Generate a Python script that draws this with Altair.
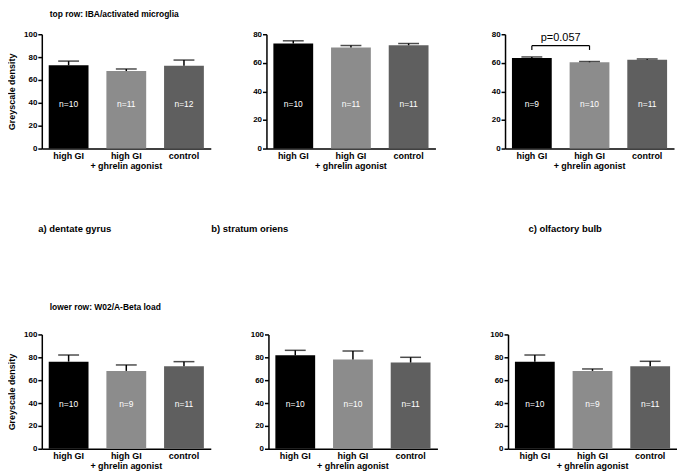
import altair as alt
import pandas as pd

groups = ["high GI", "high GI|+ ghrelin agonist", "control"]
colors = ["#000000", "#8c8c8c", "#5f5f5f"]

# top row: IBA / activated microglia
top_dg_mean = [72.8, 67.8, 72.5]
top_dg_err = [3.7, 1.8, 4.9]
top_dg_n = [10, 11, 12]
top_so_mean = [73.5, 70.7, 72.3]
top_so_err = [1.9, 1.4, 1.2]
top_so_n = [10, 11, 11]
top_ob_mean = [63.4, 60.4, 62.2]
top_ob_err = [0.7, 0.5, 0.5]
top_ob_n = [9, 10, 11]

# lower row: W02 / A-Beta load
low_dg_mean = [76.2, 68.1, 72.2]
low_dg_err = [5.8, 5.2, 4.0]
low_dg_n = [10, 9, 11]
low_so_mean = [81.7, 78.0, 75.4]
low_so_err = [4.4, 7.5, 4.6]
low_so_n = [10, 10, 11]
low_ob_mean = [76.2, 68.1, 72.2]
low_ob_err = [5.8, 1.7, 4.3]
low_ob_n = [10, 9, 11]

# significance annotation (olfactory bulb, top row)
p_label = "p=0.057"
p_pair = ["high GI", "high GI|+ ghrelin agonist"]
p_bracket_y = 72
p_bracket_tip = 69
p_text_y = 77.5

panel_labels = ["a) dentate gyrus", "b) stratum oriens", "c) olfactory bulb"]

FONT = "Liberation Sans"
W, H = 170, 115


def panel(mean, err, n, ymax, y_title=None, extent=20, tpad=5, xlabel=None,
          xlabel_x=0, bracket=False):
    df = pd.DataFrame({
        "group": groups,
        "mean": mean,
        "hi": [m + e for m, e in zip(mean, err)],
        "nlab": ["n=%d" % v for v in n],
    })
    xaxis_kw = dict(
        labelExpr="split(datum.label, '|')", labelAngle=0, ticks=False,
        domainColor="black", domainWidth=1.5, labelFont=FONT,
        labelFontWeight="bold", labelFontSize=9, labelColor="black",
        labelPadding=3, labelLineHeight=10,
    )
    if xlabel is not None:
        xaxis_kw.update(title=xlabel, titleX=xlabel_x, titleY=80,
                        titleAlign="left", titleBaseline="middle",
                        titleFont=FONT, titleFontSize=9.5,
                        titleFontWeight="bold", titleColor="black")
    else:
        xaxis_kw.update(title=None)
    x = alt.X("group:N", sort=groups,
              scale=alt.Scale(domain=groups, paddingInner=0.31, paddingOuter=0.12),
              axis=alt.Axis(**xaxis_kw))
    yaxis_kw = dict(
        values=list(range(0, ymax + 1, 20)), grid=False, tickSize=4,
        tickWidth=1.5, tickColor="black", domainColor="black", domainWidth=1.5,
        labelFont=FONT, labelFontSize=8, labelFontWeight="bold",
        labelColor="black", labelPadding=1, minExtent=extent, maxExtent=extent,
    )
    if y_title is not None:
        yaxis_kw.update(title=y_title, titleFont=FONT, titleFontSize=9,
                        titleFontWeight="bold", titleColor="black",
                        titlePadding=tpad)
    else:
        yaxis_kw.update(title=None)
    yscale = alt.Scale(domain=[0, ymax], nice=False)
    yax = alt.Axis(**yaxis_kw)
    base = alt.Chart(df)
    bars = base.mark_bar().encode(
        x=x,
        y=alt.Y("mean:Q", scale=yscale, axis=yax),
        color=alt.Color("group:N", scale=alt.Scale(domain=groups, range=colors),
                        legend=None),
    )
    rule = base.mark_rule(color="black", strokeWidth=1.5).encode(
        x=x, y=alt.Y("mean:Q", scale=yscale, axis=yax), y2="hi:Q")
    cap = base.mark_tick(color="black", thickness=1.5, size=21,
                         orient="horizontal").encode(
        x=x, y=alt.Y("hi:Q", scale=yscale, axis=yax))
    ntext = base.mark_text(color="white", font=FONT, fontSize=8.5,
                           baseline="middle").encode(
        x=x, y=alt.value(H * (1 - 0.39)), text="nlab:N")
    layers = [bars, rule, cap, ntext]
    if bracket:
        bdf = pd.DataFrame({
            "g": [p_pair[0], p_pair[1], p_pair[0]],
            "g2": [p_pair[0], p_pair[1], p_pair[1]],
            "y": [p_bracket_tip, p_bracket_tip, p_bracket_y],
            "y2": [p_bracket_y, p_bracket_y, p_bracket_y],
        })
        brk = alt.Chart(bdf).mark_rule(color="black", strokeWidth=1.2).encode(
            x=alt.X("g:N", sort=groups, scale=alt.Scale(domain=groups),
                    axis=alt.Axis(**xaxis_kw)),
            x2="g2:N",
            y=alt.Y("y:Q", scale=yscale, axis=yax), y2="y2:Q")
        tdf = pd.DataFrame({"g": [p_pair[0]], "y": [p_text_y], "t": [p_label]})
        ptxt = alt.Chart(tdf).mark_text(font=FONT, fontSize=11, color="black",
                                        dx=29, baseline="middle").encode(
            x=alt.X("g:N", sort=groups, scale=alt.Scale(domain=groups),
                    axis=alt.Axis(**xaxis_kw)),
            y=alt.Y("y:Q", scale=yscale, axis=yax), text="t:N")
        layers += [brk, ptxt]
    return alt.layer(*layers).properties(width=W, height=H)


def row_title(t, offset):
    return alt.TitleParams(t, anchor="start", dx=42, fontSize=8.5, font=FONT,
                           fontWeight="bold", color="black", offset=offset)


row1 = alt.hconcat(
    panel(top_dg_mean, top_dg_err, top_dg_n, 100, y_title="Greyscale density",
          extent=22, tpad=3, xlabel=panel_labels[0], xlabel_x=-4),
    panel(top_so_mean, top_so_err, top_so_n, 80, extent=56,
          xlabel=panel_labels[1], xlabel_x=-56),
    panel(top_ob_mean, top_ob_err, top_ob_n, 80, extent=70,
          xlabel=panel_labels[2], xlabel_x=23, bracket=True),
    spacing=0, title=row_title("top row: IBA/activated microglia", 12),
)
row2 = alt.hconcat(
    panel(low_dg_mean, low_dg_err, low_dg_n, 100, y_title="Greyscale density",
          extent=20, tpad=5),
    panel(low_so_mean, low_so_err, low_so_n, 100, extent=58),
    panel(low_ob_mean, low_ob_err, low_ob_n, 100, extent=71),
    spacing=0, title=row_title("lower row: W02/A-Beta load", 19),
)

chart = alt.vconcat(row1, row2, spacing=70, padding=0).configure_view(stroke=None)
chart.save("out.html", embed_options={"renderer": "svg", "actions": False})
